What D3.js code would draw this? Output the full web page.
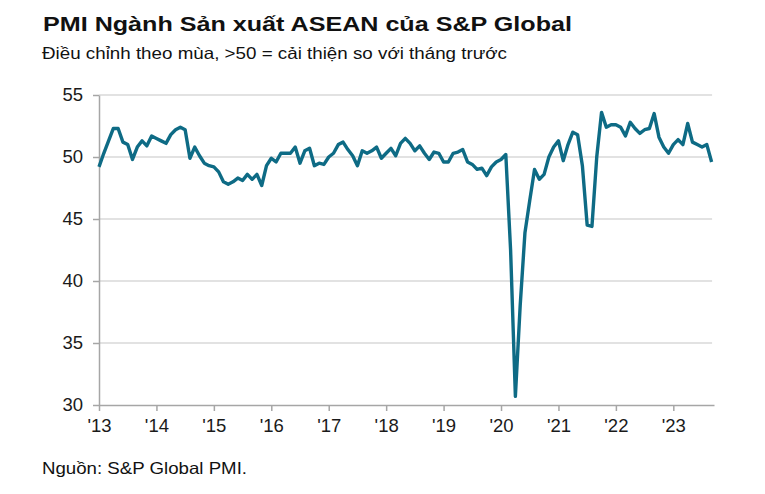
<!DOCTYPE html>
<html>
<head>
<meta charset="utf-8">
<script src="https://cdn.jsdelivr.net/npm/d3@7"></script>
<style>
  html, body { margin: 0; padding: 0; background: #ffffff; }
  svg { display: block; font-family: "Liberation Sans", Arial, sans-serif; }
</style>
</head>
<body>
<svg id="chart" width="765" height="494"></svg>
<script>
// Monthly values, Jan 2013 – Sep 2023
const startYear = 2013;
const pmi2013 = [49.2, 50.3, 51.3, 52.3, 52.3, 51.2, 51.0, 49.8, 50.8, 51.3, 50.9, 51.7];
const pmi2014 = [51.5, 51.3, 51.1, 51.8, 52.2, 52.4, 52.2, 49.9, 50.8, 50.1, 49.5, 49.3];
const pmi2015 = [49.2, 48.8, 48.0, 47.8, 48.0, 48.3, 48.1, 48.6, 48.2, 48.6, 47.7, 49.3];
const pmi2016 = [49.9, 49.6, 50.3, 50.3, 50.3, 50.8, 49.5, 50.5, 50.7, 49.3, 49.5, 49.4];
const pmi2017 = [50.0, 50.3, 51.0, 51.2, 50.6, 50.1, 49.3, 50.5, 50.3, 50.5, 50.8, 49.9];
const pmi2018 = [50.3, 50.7, 50.1, 51.1, 51.5, 51.1, 50.5, 50.9, 50.3, 49.8, 50.4, 50.3];
const pmi2019 = [49.6, 49.6, 50.3, 50.4, 50.6, 49.6, 49.4, 49.0, 49.1, 48.5, 49.2, 49.6];
const pmi2020 = [49.8, 50.2, 42.5, 30.7, 38.0, 43.9, 46.5, 49.0, 48.2, 48.6, 50.0, 50.8];
const pmi2021 = [51.3, 49.7, 51.0, 52.0, 51.8, 49.3, 44.5, 44.4, 50.0, 53.6, 52.4, 52.6];
const pmi2022 = [52.6, 52.4, 51.7, 52.8, 52.3, 51.9, 52.2, 52.3, 53.5, 51.6, 50.8, 50.3];
const pmi2023 = [51.0, 51.4, 51.0, 52.7, 51.2, 51.0, 50.8, 51.0, 49.6];

const yTicks = [30, 35, 40, 45, 50, 55];
const xTickLabels = ["'13", "'14", "'15", "'16", "'17", "'18", "'19", "'20", "'21", "'22", "'23"];

const titleText = "PMI Ngành Sản xuất ASEAN của S&P Global";
const subtitleText = "Điều chỉnh theo mùa, >50 = cải thiện so với tháng trước";
const sourceText = "Nguồn: S&P Global PMI.";

const values = [].concat(pmi2013, pmi2014, pmi2015, pmi2016, pmi2017, pmi2018,
                         pmi2019, pmi2020, pmi2021, pmi2022, pmi2023);
const data = values.map((v, i) => ({ i, v }));

const svg = d3.select("#chart");
const plotLeft = 99, plotRight = 714, plotTop = 95, plotBottom = 405;

const x = d3.scaleLinear().domain([0, 128.5]).range([plotLeft, plotRight]);
const y = d3.scaleLinear().domain([30, 55]).range([plotBottom, plotTop]);

const gridColor = "#d9d9d9";
const axisColor = "#a6a6a6";
const lineColor = "#0e6b85";
const labelFont = "'Liberation Sans', Arial, sans-serif";

// Gridlines
svg.append("g")
  .selectAll("line")
  .data(yTicks.filter(t => t !== 30))
  .join("line")
  .attr("x1", plotLeft).attr("x2", x(128.1))
  .attr("y1", d => y(d)).attr("y2", d => y(d))
  .attr("stroke", gridColor).attr("stroke-width", 1.5);

// Y axis
const yAxis = svg.append("g")
  .attr("transform", `translate(${plotLeft},0)`)
  .call(d3.axisLeft(y).tickValues(yTicks).tickSize(6).tickSizeOuter(0).tickPadding(10));
yAxis.select(".domain").attr("stroke", axisColor).attr("stroke-width", 1.5);
yAxis.selectAll(".tick line").attr("stroke", axisColor).attr("stroke-width", 1.5);
yAxis.selectAll(".tick text")
  .attr("fill", "#1a1a1a").style("font-size", "18.5px")
  .style("font-family", labelFont);

// X axis
const xAxis = svg.append("g")
  .attr("transform", `translate(0,${plotBottom})`)
  .call(d3.axisBottom(x)
    .tickValues(xTickLabels.map((_, k) => k * 12))
    .tickFormat((d, k) => xTickLabels[k])
    .tickSize(6).tickSizeOuter(0).tickPadding(8));
xAxis.select(".domain").attr("stroke", axisColor).attr("stroke-width", 1.5);
xAxis.selectAll(".tick line").attr("stroke", axisColor).attr("stroke-width", 1.5);
xAxis.selectAll(".tick text")
  .attr("fill", "#1a1a1a").style("font-size", "18.5px")
  .style("font-family", labelFont);

// Line
const line = d3.line().x(d => x(d.i)).y(d => y(d.v));
svg.append("path")
  .datum(data)
  .attr("d", line)
  .attr("fill", "none")
  .attr("stroke", lineColor)
  .attr("stroke-width", 3.4)
  .attr("stroke-linejoin", "round")
  .attr("stroke-linecap", "butt");

// Titles
svg.append("text")
  .attr("x", 43).attr("y", 31)
  .attr("fill", "#111")
  .attr("textLength", 529).attr("lengthAdjust", "spacingAndGlyphs")
  .style("font-size", "21px").style("font-weight", "bold")
  .text(titleText);

svg.append("text")
  .attr("x", 42).attr("y", 59)
  .attr("fill", "#111")
  .attr("textLength", 465).attr("lengthAdjust", "spacingAndGlyphs")
  .style("font-size", "16.5px")
  .text(subtitleText);

svg.append("text")
  .attr("x", 42).attr("y", 474)
  .attr("fill", "#111")
  .attr("textLength", 205).attr("lengthAdjust", "spacingAndGlyphs")
  .style("font-size", "16.5px")
  .text(sourceText);
</script>
</body>
</html>
